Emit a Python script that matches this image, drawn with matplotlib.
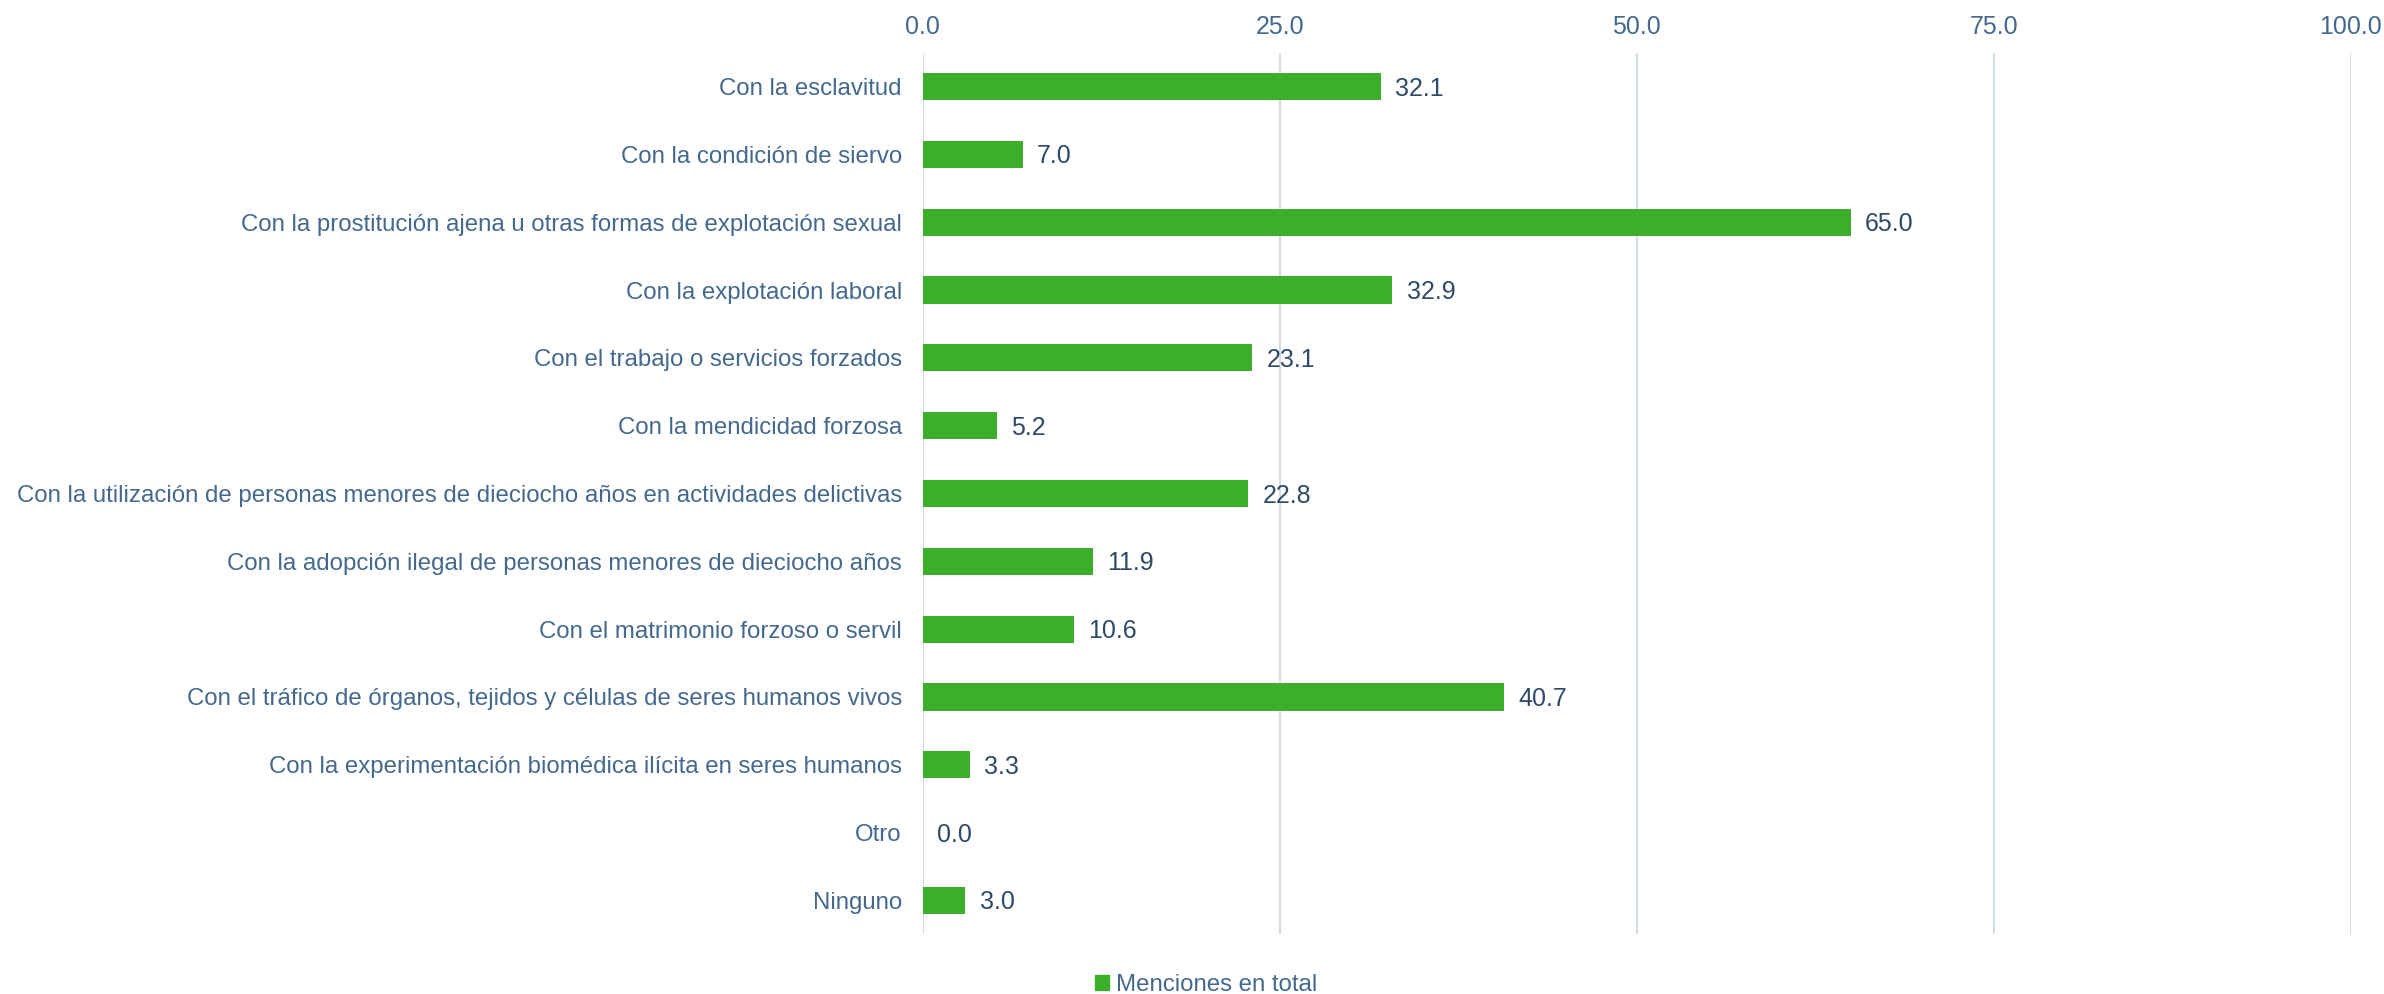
import matplotlib.pyplot as plt
from matplotlib.patches import Patch

plt.rcParams['font.family'] = ['Liberation Sans', 'DejaVu Sans']

# data
categories = [
    'Con la esclavitud',
    'Con la condición de siervo',
    'Con la prostitución ajena u otras formas de explotación sexual',
    'Con la explotación laboral',
    'Con el trabajo o servicios forzados',
    'Con la mendicidad forzosa',
    'Con la utilización de personas menores de dieciocho años en actividades delictivas',
    'Con la adopción ilegal de personas menores de dieciocho años',
    'Con el matrimonio forzoso o servil',
    'Con el tráfico de órganos, tejidos y células de seres humanos vivos',
    'Con la experimentación biomédica ilícita en seres humanos',
    'Otro',
    'Ninguno',
]
values = [32.1, 7.0, 65.0, 32.9, 23.1, 5.2, 22.8, 11.9, 10.6, 40.7, 3.3, 0.0, 3.0]
series_name = 'Menciones en total'
xticks = [0, 25, 50, 75, 100]

green = '#3DAE2B'
label_col = '#44698C'
value_col = '#2E4A66'
grid_col = '#D3DEE8'
fs = 17.3

fig = plt.figure(figsize=(23.84, 9.94), dpi=100)
ax = fig.add_axes([0.387, 0.060, 0.599, 0.887])

y = list(range(len(categories)))
ax.barh(y, values, height=0.4, color=green, zorder=3)
for yi, v in zip(y, values):
    ax.text(v + 1.0, yi + 0.03, f'{v:.1f}', va='center', ha='left',
            fontsize=18, color=value_col)

ax.set_ylim(len(categories) - 0.5, -0.5)
ax.set_xlim(0, 100)
ax.set_yticks(y)
ax.set_yticklabels(categories, fontsize=fs, color=label_col)
ax.set_xticks(xticks)
ax.set_xticklabels([f'{t:.1f}' for t in xticks], fontsize=18, color=label_col)
ax.xaxis.tick_top()
ax.tick_params(axis='both', length=0)
ax.tick_params(axis='y', pad=15)
ax.tick_params(axis='x', pad=10)
ax.grid(axis='x', color=grid_col, linewidth=1.5, zorder=0)
for s in ax.spines.values():
    s.set_visible(False)

fig.legend(handles=[Patch(color=green, label=series_name)], loc='lower center',
           bbox_to_anchor=(0.506, -0.024), frameon=False, fontsize=fs,
           handlelength=0.6, handleheight=0.6, handletextpad=0.3,
           labelcolor=label_col)

fig.savefig('out.png', dpi=100)
